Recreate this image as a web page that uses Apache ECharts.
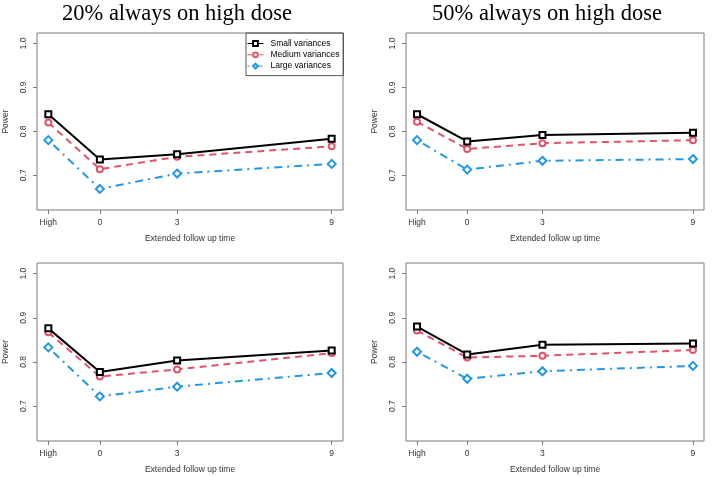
<!DOCTYPE html>
<html>
<head>
<meta charset="utf-8">
<script src="https://cdn.jsdelivr.net/npm/echarts@6/dist/echarts.min.js"></script>
<style>html,body{margin:0;padding:0;background:#fff}#c{width:714px;height:477px}</style>
</head>
<body>
<div id="c"></div>
<script>
// ---- data ----
const xPositions = [-2, 0, 3, 9];            // "High", 0, 3, 9 months
const xTickLabels = ['High', '0', '3', '9'];
const yTicks = [0.7, 0.8, 0.9, 1.0];
const seriesNames = ['Small variances', 'Medium variances', 'Large variances'];
const panelTitles = ['20% always on high dose', '50% always on high dose'];
const xAxisTitle = 'Extended follow up time';
const yAxisTitle = 'Power';

// top-left: 20% always on high dose
const tlSmall  = [0.839, 0.736, 0.748, 0.783];
const tlMedium = [0.820, 0.714, 0.742, 0.766];
const tlLarge  = [0.780, 0.669, 0.704, 0.726];
// top-right: 50% always on high dose
const trSmall  = [0.839, 0.777, 0.792, 0.797];
const trMedium = [0.822, 0.760, 0.773, 0.780];
const trLarge  = [0.780, 0.713, 0.733, 0.737];
// bottom-left
const blSmall  = [0.876, 0.777, 0.803, 0.826];
const blMedium = [0.867, 0.767, 0.783, 0.820];
const blLarge  = [0.833, 0.722, 0.744, 0.775];
// bottom-right
const brSmall  = [0.880, 0.817, 0.839, 0.842];
const brMedium = [0.871, 0.810, 0.814, 0.827];
const brLarge  = [0.823, 0.762, 0.779, 0.791];

const panels = [
  [tlSmall, tlMedium, tlLarge],
  [trSmall, trMedium, trLarge],
  [blSmall, blMedium, blLarge],
  [brSmall, brMedium, brLarge]
];

// ---- styles ----
const colors = ['#000000', '#DF536B', '#2297E6'];
const symbols = ['emptyRect', 'emptyCircle', 'emptyDiamond'];
const symbolSizes = [6, 6, 8];
const lineTypes = ['solid', [7, 5], [2, 5, 8, 5]];
const boxColor = '#7a7a7a';
const labelColor = '#333';
const smallFont = 8.5;

const grids = [
  {left: 36, top: 33, width: 307, height: 177},
  {left: 406, top: 33, width: 298, height: 177},
  {left: 36, top: 263, width: 307, height: 178},
  {left: 406, top: 263, width: 298, height: 178}
];

const option = {
  animation: false,
  backgroundColor: '#fff',
  title: [
    {text: panelTitles[0], left: 172, top: -2, textAlign: 'center',
     textStyle: {fontFamily: 'Liberation Serif', fontSize: 22.5, fontWeight: 'normal', color: '#000'}},
    {text: panelTitles[1], left: 542, top: -2, textAlign: 'center',
     textStyle: {fontFamily: 'Liberation Serif', fontSize: 22.5, fontWeight: 'normal', color: '#000'}}
  ],
  legend: {
    data: seriesNames,
    orient: 'vertical',
    left: 246, top: 33,
    padding: [6, 4, 5, 1],
    itemGap: 2.3,
    itemWidth: 16, itemHeight: 6,
    borderColor: '#555', borderWidth: 1,
    textStyle: {fontFamily: 'Liberation Sans', fontSize: smallFont, lineHeight: 8, color: '#000', padding: [0,0,0,2]},
    lineStyle: {width: 1},
    itemStyle: {borderWidth: 1}
  },
  grid: grids.map(g => Object.assign({show: true, borderColor: boxColor, borderWidth: 1, backgroundColor: 'transparent'}, g)),
  xAxis: grids.map((g, i) => ({
    type: 'value', gridIndex: i, min: -2.44, max: 9.44,
    name: xAxisTitle, nameLocation: 'middle', nameGap: 24,
    nameTextStyle: {fontFamily: 'Liberation Sans', fontSize: smallFont, color: labelColor},
    axisLine: {show: false, onZero: false},
    splitLine: {show: false},
    axisTick: {show: true, length: 4, lineStyle: {color: boxColor}, customValues: xPositions},
    axisLabel: {customValues: xPositions, margin: 8, fontFamily: 'Liberation Sans', fontSize: smallFont, color: labelColor,
      formatter: v => xTickLabels[xPositions.indexOf(v)]}
  })),
  yAxis: grids.map((g, i) => ({
    type: 'value', gridIndex: i, min: 0.621, max: 1.024,
    name: yAxisTitle, nameLocation: 'middle', nameGap: 27, nameRotate: 90,
    nameTextStyle: {fontFamily: 'Liberation Sans', fontSize: smallFont, color: labelColor},
    axisLine: {show: false, onZero: false},
    splitLine: {show: false},
    axisTick: {show: true, length: 4, lineStyle: {color: boxColor}, customValues: yTicks},
    axisLabel: {customValues: yTicks, rotate: 90, margin: 9, fontFamily: 'Liberation Sans', fontSize: smallFont, color: labelColor,
      formatter: v => v.toFixed(1)}
  })),
  series: []
};

panels.forEach((vals, p) => {
  vals.forEach((arr, s) => {
    option.series.push({
      type: 'line', name: seriesNames[s], xAxisIndex: p, yAxisIndex: p,
      data: xPositions.map((x, k) => [x, arr[k]]),
      symbol: symbols[s], symbolSize: symbolSizes[s],
      itemStyle: {color: colors[s], borderWidth: 2},
      lineStyle: {color: colors[s], width: 2, type: lineTypes[s]},
      z: 10 - s
    });
  });
});

const chart = echarts.init(document.getElementById('c'), null, {renderer: 'canvas'});
chart.setOption(option);
</script>
</body>
</html>
